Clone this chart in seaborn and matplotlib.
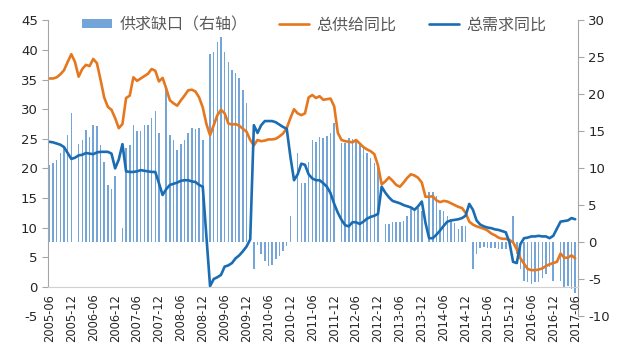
import numpy as np
import pandas as pd
import matplotlib
matplotlib.use("Agg")
import matplotlib.pyplot as plt
import seaborn as sns
from matplotlib.patches import Patch
from matplotlib.lines import Line2D

sns.set_style("white")
plt.rcParams['font.family'] = ['DejaVu Sans', 'Noto Sans CJK SC']
plt.rcParams['axes.unicode_minus'] = False

# monthly, 2005-06 .. 2017-06
months = pd.date_range("2005-06-01", "2017-06-01", freq="MS").strftime("%Y-%m").tolist()

# 总供给同比 (left axis)
supply = [35.2, 35.2, 35.4, 35.9, 36.6, 38.0, 39.3, 38.0, 35.5, 36.8, 37.5, 37.3,
          38.5, 37.8, 35.0, 32.0, 30.4, 29.9, 28.5, 26.8, 27.5, 31.9, 32.3, 35.4,
          34.8, 35.2, 35.6, 36.0, 36.8, 36.5, 34.7, 35.3, 33.5, 31.5, 31.0, 30.6,
          31.5, 32.3, 33.2, 33.3, 33.0, 32.0, 30.3, 27.5, 25.6, 27.3, 29.0, 29.9,
          29.3, 27.6, 27.4, 27.5, 27.2, 26.7, 26.2, 24.8, 23.9, 24.8, 24.6, 24.7,
          24.9, 24.9, 25.0, 25.4, 25.9, 26.8, 28.5, 30.0, 29.3, 29.0, 29.3, 32.0,
          32.4, 31.9, 32.2, 31.6, 31.7, 31.8, 30.5, 26.0, 24.8, 24.6, 24.5, 24.4,
          24.8, 24.2, 23.6, 23.2, 22.9, 22.4, 20.5, 17.3, 17.8, 18.5, 17.9, 17.2,
          16.9, 17.6, 18.4, 19.0, 18.8, 18.4, 17.6, 15.2, 15.2, 15.3, 14.6, 14.3,
          14.5, 14.4, 14.1, 13.8, 13.5, 13.3, 12.5, 11.0, 10.5, 10.2, 10.0, 9.8,
          9.5, 9.0, 8.7, 8.3, 8.1, 8.1, 7.9, 7.5, 6.3, 4.8, 3.9, 3.0,
          2.8, 2.8, 2.9, 3.1, 3.5, 3.8, 4.0, 4.2, 5.6, 4.9, 4.9, 5.3,
          4.8]

# 总需求同比 (left axis)
demand = [24.5, 24.4, 24.2, 24.0, 23.6, 22.6, 21.6, 21.8, 22.2, 22.3, 22.6, 22.5,
          22.4, 22.7, 22.8, 22.8, 22.8, 22.5, 20.0, 21.5, 24.1, 19.5, 19.4, 19.4,
          19.5, 19.7, 19.6, 19.5, 19.4, 19.4, 17.5, 15.5, 16.5, 17.2, 17.4, 17.6,
          17.9, 18.0, 18.0, 17.8, 17.7, 17.2, 16.9, 8.5, 0.1, 1.3, 1.6, 2.0,
          3.4, 3.6, 4.0, 4.8, 5.3, 6.0, 6.8, 8.0, 27.3, 26.0, 27.3, 28.0,
          28.0, 28.0, 27.8, 27.4, 27.0, 26.7, 22.0, 18.0, 19.0, 20.8, 20.6, 19.0,
          18.3, 18.0, 18.0, 17.5, 16.9, 15.8, 14.0, 12.5, 11.3, 10.4, 10.2, 10.9,
          10.9, 10.6, 11.0, 11.5, 11.8, 12.0, 12.3, 16.9, 15.9, 15.1, 14.5, 14.3,
          14.1, 13.8, 13.6, 13.4, 13.0, 13.6, 14.4, 10.8, 8.2, 8.2, 8.8, 9.5,
          10.3, 11.0, 11.2, 11.3, 11.4, 11.6, 12.0, 14.0, 13.0, 11.2, 10.5, 10.2,
          10.0, 9.9, 9.7, 9.6, 9.4, 9.2, 7.5, 4.2, 4.0, 7.2, 8.2, 8.3,
          8.5, 8.5, 8.6, 8.5, 8.5, 8.2, 8.6, 9.8, 11.0, 11.1, 11.2, 11.6,
          11.4]

# 供求缺口 (right axis), January values missing
gap = [10.5, 10.7, 11.2, 12.1, 13.0, 14.5, 17.5, np.nan, 13.3, 13.9, 15.2, 14.3,
       15.9, 15.7, 13.2, 10.9, 7.7, 7.2, 9.0, np.nan, 2.0, 12.7, 13.2, 15.9,
       15.0, 15.0, 15.9, 15.9, 16.8, 17.7, 14.8, np.nan, 20.8, 14.5, 13.9, 12.5,
       13.3, 13.9, 14.8, 15.4, 15.3, 15.4, 13.9, np.nan, 25.5, 25.7, 27.1, 27.8,
       25.7, 24.4, 23.3, 22.9, 22.2, 20.6, 18.8, np.nan, -3.6, -0.3, -1.6, -2.5,
       -3.2, -3.1, -2.3, -1.8, -1.2, -0.5, 3.6, np.nan, 12.1, 8.0, 8.0, 10.9,
       13.9, 13.6, 14.2, 14.1, 14.4, 14.8, 16.2, np.nan, 13.4, 13.5, 14.1, 14.0,
       13.9, 13.2, 13.0, 12.1, 11.4, 10.7, 10.0, np.nan, 2.5, 2.5, 2.7, 2.7,
       2.8, 2.9, 3.6, 4.5, 4.7, 4.7, 4.2, np.nan, 6.8, 6.8, 6.2, 4.4,
       4.2, 3.5, 3.2, 2.6, 1.8, 2.2, 2.2, np.nan, -3.6, -1.6, -0.7, -0.6,
       -0.8, -0.8, -0.8, -0.9, -0.9, -0.9, -0.3, 3.5, -1.6, -3.6, -5.2, -5.4,
       -5.6, -5.3, -5.3, -4.8, -4.3, -3.4, -5.2, np.nan, -5.2, -6.1, -5.9, -6.3,
       -6.8]

x = np.arange(len(months))
df = pd.DataFrame({"x": x, "month": months, "supply": supply, "demand": demand, "gap": gap})

c_bar = "#74A5D9"
c_sup = "#E5781F"
c_dem = "#1A6CB3"
grey = "#A6A6A6"

fig = plt.figure(figsize=(6.3, 3.51), dpi=100)
ax = fig.add_axes([0.0767, 0.0989, 0.8403, 0.8427])
ax2 = ax.twinx()

# bars on the right axis, lines on the left axis drawn on top
sns.barplot(data=df, x="x", y="gap", native_scale=True, ax=ax2, color=c_bar,
            width=0.42, errorbar=None, saturation=1, linewidth=0)
sns.lineplot(data=df, x="x", y="supply", ax=ax, color=c_sup, linewidth=1.9)
sns.lineplot(data=df, x="x", y="demand", ax=ax, color=c_dem, linewidth=1.9)

ax.set_zorder(ax2.get_zorder() + 1)
ax.patch.set_visible(False)

ax.set_xlim(-0.3, 144.7)
ax.set_ylim(-5, 45)
ax2.set_ylim(-10, 30)
ax.set_yticks(range(-5, 50, 5))
ax2.set_yticks(range(-10, 35, 5))

ax.set_xticks(x[::6])
ax.set_xticklabels(months[::6])
ax.set_xticks(x, minor=True)
ax.tick_params(axis="x", which="both", direction="out", length=3, color="#BFBFBF", pad=2)
ax.tick_params(axis="x", which="major", labelrotation=90, labelsize=8.3, labelcolor="#262626")
ax.tick_params(axis="y", labelsize=9.5, colors="#262626", length=4, color=grey)
ax.yaxis.get_major_ticks()[0].tick1line.set_visible(False)
ax2.tick_params(axis="y", labelsize=9.5, colors="#262626", length=4, color=grey)

ax.spines["bottom"].set_position(("data", 0))
ax.spines["bottom"].set_color("#D0D0D0")
ax.spines["left"].set_bounds(0, 45)
ax.spines["left"].set_color(grey)
for s in ["top", "right"]:
    ax.spines[s].set_visible(False)
for s in ["top", "left", "bottom"]:
    ax2.spines[s].set_visible(False)
ax2.spines["right"].set_color(grey)

ax.set_xlabel("")
ax.set_ylabel("")
ax2.set_ylabel("")

handles = [Patch(facecolor=c_bar, edgecolor="none"),
           Line2D([], [], color=c_sup, linewidth=1.9),
           Line2D([], [], color=c_dem, linewidth=1.9)]
labels = ["供求缺口（右轴）", "总供给同比", "总需求同比"]
ax.legend(handles, labels, loc="center left", bbox_to_anchor=(0.063, 0.985),
          ncol=3, frameon=False, labelcolor="#595959",
          handlelength=1.9, handleheight=0.5, handletextpad=0.45,
          columnspacing=2.0, borderpad=0, borderaxespad=0,
          prop={"family": ["Noto Sans CJK SC"], "size": 11.5})

fig.savefig("out.png", dpi=100)
